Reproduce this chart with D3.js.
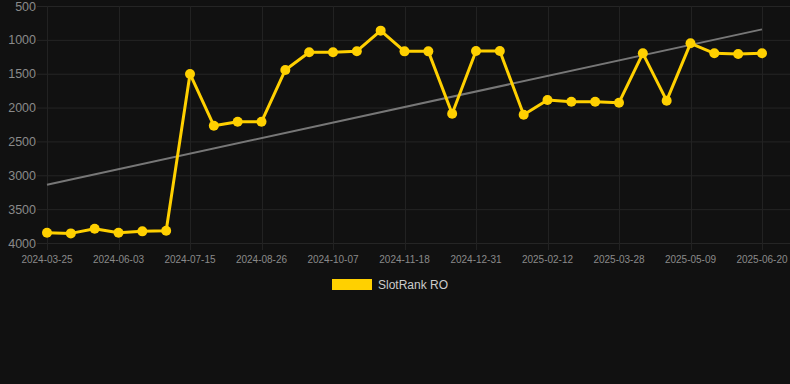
<!DOCTYPE html>
<html>
<head>
<meta charset="utf-8">
<script src="https://cdn.jsdelivr.net/npm/d3@7"></script>
<style>
	body { margin: 0; background: #111111; }
	svg { display: block; font-family: "Liberation Sans", Arial, sans-serif; }
</style>
</head>
<body>
<div id="chart"></div>
<script>
// Weekly-ish snapshots (category axis, every third label shown).
var dates = [
	"2024-03-25", "2024-04-18", "2024-05-11", "2024-06-03", "2024-06-17", "2024-07-01",
	"2024-07-15", "2024-07-29", "2024-08-12", "2024-08-26", "2024-09-09", "2024-09-23",
	"2024-10-07", "2024-10-21", "2024-11-04", "2024-11-18", "2024-12-02", "2024-12-16",
	"2024-12-31", "2025-01-14", "2025-01-28", "2025-02-12", "2025-02-26", "2025-03-13",
	"2025-03-28", "2025-04-11", "2025-04-25", "2025-05-09", "2025-05-23", "2025-06-06",
	"2025-06-20"
];
var ranks = [
	3848, 3858, 3789, 3848, 3828, 3818,
	1504, 2268, 2210, 2210, 1445, 1184,
	1184, 1168, 864, 1170, 1170, 2090,
	1165, 1165, 2105, 1888, 1913, 1913,
	1928, 1199, 1898, 1051, 1199, 1209,
	1199
];
var trend = [3140, 845]; // trend line at first and last date
var yTicks = [500, 1000, 1500, 2000, 2500, 3000, 3500, 4000];
var seriesName = "SlotRank RO";

var width = 790,
	height = 384,
	margin = { top: 6, right: 28, bottom: 141, left: 47 };

var svg = d3.select("#chart").append("svg")
	.attr("width", width)
	.attr("height", height);

svg.append("rect")
	.attr("width", width)
	.attr("height", height)
	.attr("fill", "#111111");

var x = d3.scalePoint()
	.domain(dates)
	.range([margin.left, width - margin.right]);

var y = d3.scaleLinear()
	.domain([500, 4000])
	.range([margin.top, height - margin.bottom]);

// Horizontal grid + y labels
var yAxis = svg.append("g");
yAxis.selectAll("line")
	.data(yTicks)
	.enter().append("line")
	.attr("x1", 37)
	.attr("x2", width)
	.attr("y1", d => y(d) + 0.5)
	.attr("y2", d => y(d) + 0.5)
	.attr("stroke", "#252525")
	.attr("stroke-width", 1);
yAxis.selectAll("text")
	.data(yTicks)
	.enter().append("text")
	.attr("x", 36)
	.attr("y", d => y(d))
	.attr("dy", "0.36em")
	.attr("text-anchor", "end")
	.attr("fill", "#8a8a8a")
	.style("font-size", "12.5px")
	.text(d => d);

// Vertical grid + x labels (every third category)
var shown = dates.filter((d, i) => i % 3 === 0);
var xAxis = svg.append("g");
xAxis.selectAll("line")
	.data(shown)
	.enter().append("line")
	.attr("x1", d => Math.round(x(d)) + 0.5)
	.attr("x2", d => Math.round(x(d)) + 0.5)
	.attr("y1", margin.top)
	.attr("y2", y(4000) + 7)
	.attr("stroke", "#222222")
	.attr("stroke-width", 1);
xAxis.selectAll("text")
	.data(shown)
	.enter().append("text")
	.attr("x", d => x(d))
	.attr("y", 263)
	.attr("text-anchor", "middle")
	.attr("fill", "#8a8a8a")
	.style("font-size", "10px")
	.text(d => d);

// Trend line
svg.append("line")
	.attr("x1", x(dates[0]))
	.attr("y1", y(trend[0]))
	.attr("x2", x(dates[dates.length - 1]))
	.attr("y2", y(trend[1]))
	.attr("stroke", "#777777")
	.attr("stroke-width", 2);

// Series line
var line = d3.line()
	.x((d, i) => x(dates[i]))
	.y(d => y(d));

svg.append("path")
	.datum(ranks)
	.attr("d", line)
	.attr("fill", "none")
	.attr("stroke", "#ffd000")
	.attr("stroke-width", 3)
	.attr("stroke-linejoin", "round");

svg.selectAll(".dot")
	.data(ranks)
	.enter().append("circle")
	.attr("class", "dot")
	.attr("cx", (d, i) => x(dates[i]))
	.attr("cy", d => y(d))
	.attr("r", 5)
	.attr("fill", "#ffd000");

// Legend
var legend = svg.append("g");
legend.append("rect")
	.attr("x", 332)
	.attr("y", 279)
	.attr("width", 40)
	.attr("height", 11)
	.attr("fill", "#ffd000");
legend.append("text")
	.attr("x", 378)
	.attr("y", 285)
	.attr("dy", "0.36em")
	.attr("fill", "#cccccc")
	.style("font-size", "12px")
	.text(seriesName);
</script>
</body>
</html>
